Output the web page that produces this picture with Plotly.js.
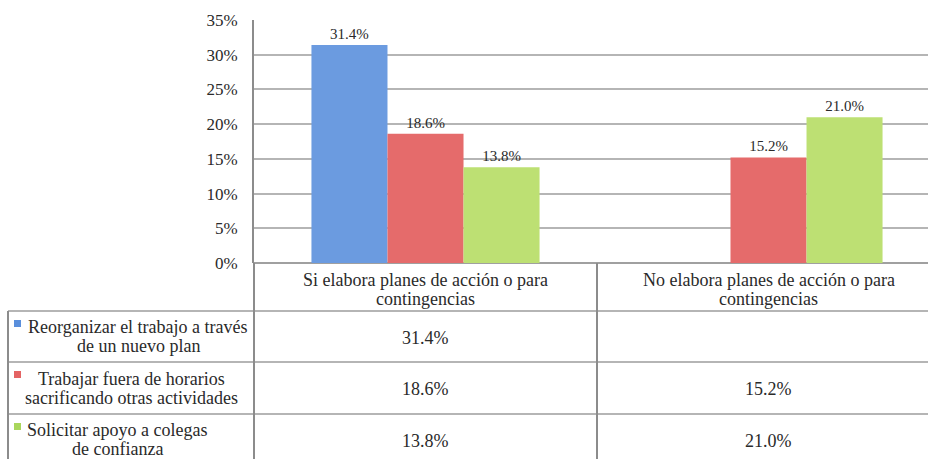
<!DOCTYPE html>
<html>
<head>
<meta charset="utf-8">
<script src="https://cdn.plot.ly/plotly-3.0.1.min.js"></script>
<style>html,body{margin:0;padding:0;background:#fff;}#chart{width:928px;height:459px;}</style>
</head>
<body>
<div id="chart"></div>
<script>
// ---- data ----
const categories = ["Si elabora planes de acción o para contingencias", "No elabora planes de acción o para contingencias"];
const headerLines = [["Si elabora planes de acción o para", "contingencias"], ["No elabora planes de acción o para", "contingencias"]];
const seriesNames = ["Reorganizar el trabajo a través de un nuevo plan", "Trabajar fuera de horarios sacrificando otras actividades", "Solicitar apoyo a colegas de confianza"];
const seriesLabelLines = [["Reorganizar el trabajo a través", "de un nuevo plan"], ["Trabajar fuera de horarios", "sacrificando otras actividades"], ["Solicitar apoyo a colegas", "de confianza"]];
const reorganizar = [31.4, null];
const trabajar = [18.6, 15.2];
const solicitar = [13.8, 21.0];
const yTickVals = [0, 5, 10, 15, 20, 25, 30, 35];
const yTickText = ["0%", "5%", "10%", "15%", "20%", "25%", "30%", "35%"];

// ---- styling / layout ----
const seriesValues = [reorganizar, trabajar, solicitar];
const barColors = ["#6b9be0", "#e56b6b", "#bde073"];
const keyColors = ["#5a8fdc", "#e46464", "#a9d65c"];
const FONT = "'Liberation Serif', 'Times New Roman', serif";
const TXT = "#2a2a2a";
const W = 928, H = 459, L = 254, T = 20, PH = 243, PW = 674;
const px = v => (v - L) / PW;
const py = v => (T + PH - v) / PH;
const rowTops = [311, 362, 414];
const rowLabelCenters = [138, 131, 117];
const rowLabelOffsets = [16, 17, 16];
const hLine = "#b5b5b5", vLine = "#8c8c8c";
const TS = 18;
const LH = 19;

const fmt = v => v.toFixed(1) + "%";

const traces = seriesValues.map((vals, i) => ({
  type: "bar",
  name: seriesNames[i],
  x: categories,
  y: vals,
  marker: {color: barColors[i], line: {width: 0}},
  text: vals.map(v => v == null ? "" : fmt(v)),
  textposition: "outside",
  textfont: {family: FONT, size: 15, color: TXT},
  cliponaxis: false,
  hoverinfo: "skip"
}));

const shapes = [];
const annotations = [];

rowTops.forEach(y => shapes.push({type: "line", xref: "paper", yref: "paper", x0: px(8), x1: px(W), y0: py(y), y1: py(y), line: {color: hLine, width: 2}}));
shapes.push({type: "line", xref: "paper", yref: "paper", x0: px(8), x1: px(8), y0: py(rowTops[0]), y1: py(H + 5), line: {color: vLine, width: 2}});
shapes.push({type: "line", xref: "paper", yref: "paper", x0: 0, x1: 0, y0: 0, y1: py(H + 5), line: {color: vLine, width: 2}});
shapes.push({type: "line", xref: "x", yref: "paper", x0: 0.5, x1: 0.5, y0: 0, y1: py(H + 5), line: {color: vLine, width: 2}});

headerLines.forEach((lines, c) => {
  lines.forEach((ln, k) => annotations.push({xref: "x", yref: "paper", x: categories[c], y: py(280 + k * LH), text: ln, showarrow: false, xanchor: "center", yanchor: "middle", font: {family: FONT, size: TS, color: TXT}}));
});

seriesLabelLines.forEach((lines, r) => {
  const top = rowTops[r];
  lines.forEach((ln, k) => annotations.push({xref: "paper", yref: "paper", x: px(rowLabelCenters[r]), y: py(top + rowLabelOffsets[r] + k * LH), text: ln, showarrow: false, xanchor: "center", yanchor: "middle", font: {family: FONT, size: TS, color: TXT}}));
  shapes.push({type: "rect", xref: "paper", yref: "paper", x0: px(14), x1: px(21), y0: py(top + 9), y1: py(top + 16), fillcolor: keyColors[r], line: {width: 0}});
  seriesValues[r].forEach((v, c) => {
    if (v == null) return;
    annotations.push({xref: "x", yref: "paper", x: categories[c], y: py(top + 27), text: fmt(v), showarrow: false, xanchor: "center", yanchor: "middle", font: {family: FONT, size: TS, color: TXT}});
  });
});

const layout = {
  width: W, height: H,
  margin: {l: L, r: 0, t: T, b: H - T - PH, pad: 0},
  paper_bgcolor: "#fff", plot_bgcolor: "#fff",
  showlegend: false,
  barmode: "group",
  bargap: 0.335, bargroupgap: 0,
  font: {family: FONT, color: TXT},
  xaxis: {type: "category", range: [-0.5, 1.465], showticklabels: false, showgrid: false, zeroline: false, showline: false, ticks: "", fixedrange: true},
  yaxis: {range: [0, 35], tickvals: yTickVals, ticktext: yTickText, showgrid: true, gridcolor: "#b5b5b5", gridwidth: 2, zeroline: true, zerolinecolor: "#a0a0a0", zerolinewidth: 2, showline: true, linecolor: vLine, linewidth: 2, ticks: "", ticklabelstandoff: 11, tickfont: {family: FONT, size: 17, color: TXT}, fixedrange: true},
  shapes: shapes,
  annotations: annotations
};

Plotly.newPlot("chart", traces, layout, {displayModeBar: false, staticPlot: true});
</script>
</body>
</html>
